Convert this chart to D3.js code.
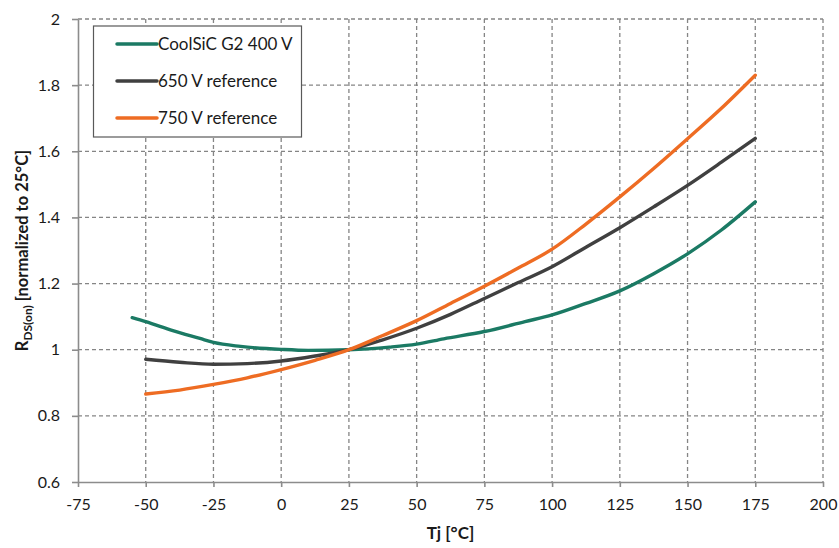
<!DOCTYPE html>
<html>
<head>
<meta charset="utf-8">
<script src="https://cdn.jsdelivr.net/npm/d3@7"></script>
<style>
  body { margin: 0; background: #fff; }
  svg text { font-family: Lato, "Open Sans", sans-serif; fill: #1a1a1a; }
</style>
</head>
<body>
<div id="chart"></div>
<script>
const w = 839;
const h = 548;
const margin = { top: 19, right: 16, bottom: 66, left: 78 };

const xTicks = [-75, -50, -25, 0, 25, 50, 75, 100, 125, 150, 175, 200];
const yTicks = [0.6, 0.8, 1, 1.2, 1.4, 1.6, 1.8, 2];

// CoolSiC G2 400 V
const tempG2 = [-55, -50, -40, -30, -25, -15, 0, 10, 25, 40, 50, 60, 75, 90, 100, 112.5, 125, 137.5, 150, 162.5, 175];
const valG2 = [1.097, 1.085, 1.058, 1.034, 1.022, 1.01, 1.001, 0.998, 1.0, 1.008, 1.017, 1.033, 1.055, 1.085, 1.105, 1.14, 1.178, 1.23, 1.29, 1.362, 1.447];

// 650 V reference
const temp650 = [-50, -37.5, -25, -12.5, 0, 12.5, 25, 37.5, 50, 62.5, 75, 87.5, 100, 112.5, 125, 137.5, 150, 162.5, 175];
const val650 = [0.971, 0.962, 0.956, 0.958, 0.966, 0.981, 1.0, 1.03, 1.065, 1.107, 1.155, 1.203, 1.251, 1.31, 1.369, 1.432, 1.497, 1.567, 1.639];

// 750 V reference
const temp750 = [-50, -37.5, -25, -12.5, 0, 12.5, 25, 37.5, 50, 62.5, 75, 87.5, 100, 112.5, 125, 137.5, 150, 162.5, 175];
const val750 = [0.866, 0.878, 0.895, 0.915, 0.94, 0.968, 1.0, 1.043, 1.088, 1.14, 1.192, 1.247, 1.304, 1.38, 1.462, 1.548, 1.638, 1.73, 1.83];

const seriesNames = ['CoolSiC G2 400 V', '650 V reference', '750 V reference'];
const seriesColors = ['#1b7a64', '#404040', '#ee6c23'];

const series = [
  tempG2.map((t, i) => ({ t: t, v: valG2[i] })),
  temp650.map((t, i) => ({ t: t, v: val650[i] })),
  temp750.map((t, i) => ({ t: t, v: val750[i] }))
];

const svg = d3.select('#chart')
              .append('svg')
              .attr('width', w)
              .attr('height', h);

const xScale = d3.scaleLinear()
                 .domain([-75, 200])
                 .range([margin.left, w - margin.right]);

const yScale = d3.scaleLinear()
                 .domain([0.6, 2])
                 .range([h - margin.bottom, margin.top]);

// grid
svg.append('g')
   .selectAll('line')
   .data(xTicks.slice(1))
   .enter()
   .append('line')
   .attr('x1', d => xScale(d))
   .attr('x2', d => xScale(d))
   .attr('y1', yScale(2))
   .attr('y2', yScale(0.6))
   .attr('stroke', '#858585')
   .attr('stroke-width', 1.3)
   .attr('stroke-dasharray', '4,3');

svg.append('g')
   .selectAll('line')
   .data(yTicks.slice(1))
   .enter()
   .append('line')
   .attr('x1', xScale(-75))
   .attr('x2', xScale(200))
   .attr('y1', d => yScale(d))
   .attr('y2', d => yScale(d))
   .attr('stroke', '#858585')
   .attr('stroke-width', 1.3)
   .attr('stroke-dasharray', '4,3');

// axes
const xAxis = d3.axisBottom(xScale)
                .tickValues(xTicks)
                .tickSize(5)
                .tickSizeOuter(0)
                .tickPadding(12)
                .tickFormat(d => d);

const yAxis = d3.axisLeft(yScale)
                .tickValues(yTicks)
                .tickSize(6)
                .tickSizeOuter(0)
                .tickPadding(12)
                .tickFormat(d => d);

const gx = svg.append('g')
              .attr('transform', `translate(0, ${yScale(0.6)})`)
              .call(xAxis);

const gy = svg.append('g')
              .attr('transform', `translate(${xScale(-75)}, 0)`)
              .call(yAxis);

[gx, gy].forEach(g => {
  g.selectAll('path, line').attr('stroke', '#8c8c8c').attr('stroke-width', 1.6);
  g.selectAll('text').style('font-size', '16px').attr('fill', '#1a1a1a');
});

// axis titles
svg.append('text')
   .attr('x', (xScale(-75) + xScale(200)) / 2)
   .attr('y', 539)
   .attr('text-anchor', 'middle')
   .style('font-size', '17px')
   .style('font-weight', 'bold')
   .text('Tj [°C]');

const yTitle = svg.append('text')
   .attr('transform', `translate(28, ${(yScale(0.6) + yScale(2)) / 2}) rotate(-90)`)
   .attr('text-anchor', 'middle')
   .style('font-size', '16.5px')
   .style('font-weight', 'bold');
yTitle.append('tspan').text('R');
yTitle.append('tspan').attr('dy', 4).style('font-size', '12px').text('DS(on)');
yTitle.append('tspan').attr('dy', -4).text(' [normalized to 25°C]');

// lines
const line = d3.line()
               .x(d => xScale(d.t))
               .y(d => yScale(d.v))
               .curve(d3.curveMonotoneX);

svg.append('g')
   .selectAll('path')
   .data(series)
   .enter()
   .append('path')
   .attr('d', d => line(d))
   .attr('fill', 'none')
   .attr('stroke', (d, i) => seriesColors[i])
   .attr('stroke-width', 3.4)
   .attr('stroke-linecap', 'round');

// legend
const legend = svg.append('g');

legend.append('rect')
      .attr('x', 93.5)
      .attr('y', 26)
      .attr('width', 208)
      .attr('height', 111)
      .attr('fill', '#fff')
      .attr('stroke', '#595959')
      .attr('stroke-width', 1.2);

const items = legend.selectAll('g.item')
                    .data(seriesNames)
                    .enter()
                    .append('g')
                    .attr('transform', (d, i) => `translate(0, ${44 + i * 37})`);

items.append('line')
     .attr('x1', 117)
     .attr('x2', 157)
     .attr('stroke', (d, i) => seriesColors[i])
     .attr('stroke-width', 3.5)
     .attr('stroke-linecap', 'round');

items.append('text')
     .attr('x', 158)
     .attr('y', 6)
     .style('font-size', '17px')
     .text(d => d);
</script>
</body>
</html>
